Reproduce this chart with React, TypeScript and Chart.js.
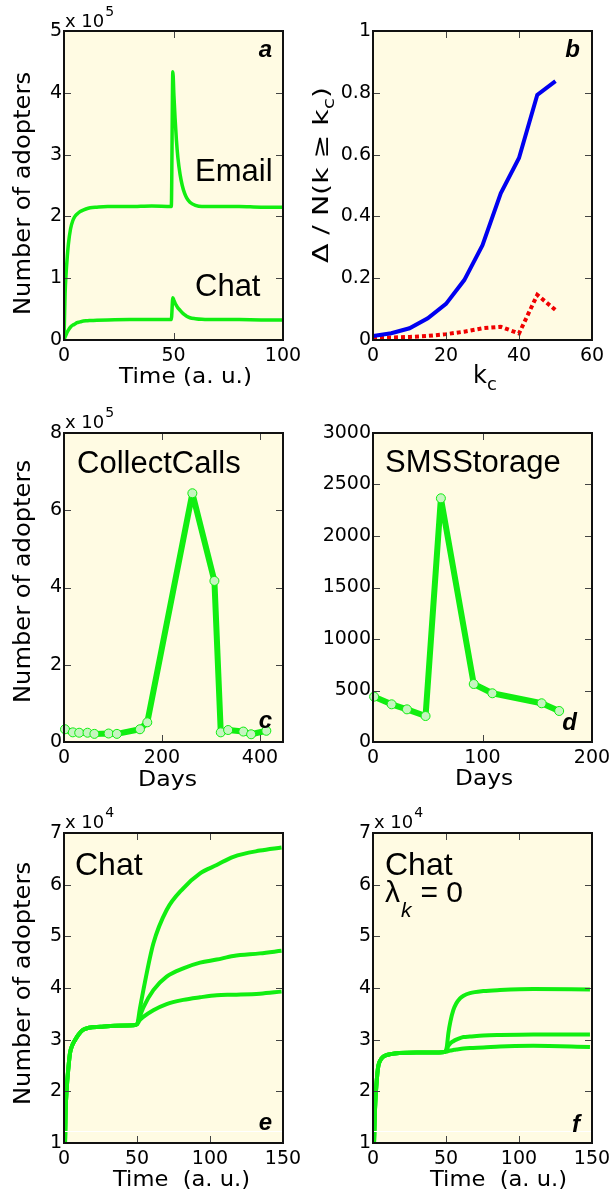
import React, { useEffect, useRef } from 'react';
import { Chart, registerables } from 'chart.js';

Chart.register(...registerables);

// ---------------- data ----------------
// panel a (values in units of 1e5)
const timeA = [0, 0.5, 1, 1.5, 2, 3, 4, 5, 6, 7, 8, 10, 12, 15, 20, 30, 40, 49, 49.7, 50.2, 50.7, 51.3, 52, 53, 54, 55, 56, 57.5, 60, 63, 70, 80, 90, 100];
const emailA = [0, 0.75, 1.1, 1.35, 1.55, 1.8, 1.93, 2.0, 2.04, 2.07, 2.09, 2.12, 2.14, 2.15, 2.16, 2.16, 2.17, 2.16, 4.34, 3.95, 3.6, 3.25, 2.95, 2.68, 2.5, 2.38, 2.3, 2.23, 2.18, 2.16, 2.16, 2.16, 2.15, 2.15];
const chatA = [0, 0.05, 0.09, 0.13, 0.16, 0.21, 0.24, 0.26, 0.28, 0.29, 0.3, 0.31, 0.315, 0.32, 0.325, 0.33, 0.33, 0.33, 0.685, 0.64, 0.6, 0.56, 0.52, 0.48, 0.44, 0.41, 0.385, 0.36, 0.345, 0.335, 0.33, 0.33, 0.325, 0.325];
const xTicksA = [0, 50, 100];
const yTicksA = [0, 1, 2, 3, 4, 5];

// panel b
const kcB = [0, 5, 10, 15, 20, 25, 30, 35, 40, 45, 50];
const blueB = [0.013, 0.022, 0.038, 0.07, 0.117, 0.194, 0.307, 0.475, 0.589, 0.793, 0.838];
const redB = [0.007, 0.008, 0.01, 0.013, 0.019, 0.027, 0.038, 0.043, 0.021, 0.146, 0.097];
const xTicksB = [0, 20, 40, 60];
const yTicksB = [0, 0.2, 0.4, 0.6, 0.8, 1];

// panel c (units of 1e5)
const daysC = [2, 18, 31, 48, 62, 91, 108, 155, 170, 262, 307, 320, 335, 366, 382, 413];
const adoptC = [0.33, 0.25, 0.24, 0.24, 0.21, 0.22, 0.21, 0.33, 0.51, 6.44, 4.17, 0.25, 0.31, 0.27, 0.2, 0.29];
const xTicksC = [0, 200, 400];
const yTicksC = [0, 2, 4, 6, 8];

// panel d
const daysD = [1, 17, 31, 48, 62, 92, 109, 154, 170];
const adoptD = [440, 366, 317, 252, 2366, 563, 473, 376, 301];
const xTicksD = [0, 100, 200];
const yTicksD = [0, 500, 1000, 1500, 2000, 2500, 3000];

// panel e (units of 1e4)
const baseTimeE = [0, 0.7, 1.1, 1.8, 3, 4.1, 5.5, 7.5, 10, 13, 17, 25, 35, 47.5, 50];
const baseE = [0, 1.0, 1.6, 2.03, 2.45, 2.74, 2.88, 2.99, 3.1, 3.19, 3.23, 3.25, 3.27, 3.28, 3.3];
const branchTimeE = [52, 54.3, 61.2, 70.3, 81.7, 93.2, 104.6, 116, 134.2, 149];
const highE = [3.6, 3.95, 4.86, 5.51, 5.93, 6.22, 6.38, 6.54, 6.66, 6.72];
const midE = [3.45, 3.62, 3.96, 4.22, 4.38, 4.49, 4.55, 4.62, 4.67, 4.72];
const lowE = [3.38, 3.44, 3.57, 3.69, 3.77, 3.82, 3.86, 3.87, 3.89, 3.93];

// panel f (units of 1e4)
const baseTimeF = [0, 0.7, 1.3, 2.1, 3, 3.7, 5, 7, 9, 12, 18, 30, 40, 49];
const baseF = [0, 1.0, 1.6, 2.03, 2.35, 2.5, 2.6, 2.67, 2.7, 2.72, 2.74, 2.75, 2.75, 2.76];
const branchTimeF = [50.5, 51.6, 53, 55, 57, 59.6, 62, 66.4, 75.6, 87, 109.8, 148.6];
const highF = [2.85, 3.12, 3.35, 3.57, 3.7, 3.8, 3.85, 3.9, 3.94, 3.96, 3.98, 3.97];
const midF = [2.8, 2.88, 2.93, 2.97, 3.0, 3.03, 3.05, 3.06, 3.08, 3.09, 3.1, 3.1];
const lowF = [2.77, 2.78, 2.79, 2.8, 2.81, 2.82, 2.83, 2.84, 2.85, 2.87, 2.88, 2.86];

const xTicksEF = [0, 50, 100, 150];
const yTicksEF = [1, 2, 3, 4, 5, 6, 7];

// ---------------- styles ----------------
const GREEN = '#11ee11';
const BG = '#fffbe3';
const FT = (s: number) => `${s}px "DejaVu Sans"`;
const FL = (s: number) => `${s}px "Liberation Sans"`;
const FLETTER = 'bold italic 24px "Liberation Sans"';
const ROT = -Math.PI / 2;

type Run = { t: string; font: string; dx?: number; dy?: number };
type Label = {
  runs: Run[];
  x: number;
  y: number;
  rot?: number;
  align?: 'left' | 'center' | 'right';
  baseline?: CanvasTextBaseline;
  width?: number;
};

const pts = (xs: number[], ys: number[]) => xs.map((x, i) => ({ x, y: ys[i] }));

function drawLabel(ctx: CanvasRenderingContext2D, lb: Label, ox: number, oy: number) {
  ctx.save();
  ctx.fillStyle = '#000';
  ctx.textBaseline = lb.baseline ?? 'alphabetic';
  ctx.textAlign = 'left';
  const widths = lb.runs.map((r) => {
    ctx.font = r.font;
    return ctx.measureText(r.t).width;
  });
  const total = widths.reduce((s, w, i) => s + w + (lb.runs[i].dx ?? 0), 0);
  const sx = lb.width ? lb.width / total : 1;
  ctx.translate(lb.x - ox, lb.y - oy);
  if (lb.rot) ctx.rotate(lb.rot);
  ctx.scale(sx, 1);
  let cur = lb.align === 'center' ? -total / 2 : lb.align === 'right' ? -total : 0;
  lb.runs.forEach((r, i) => {
    ctx.font = r.font;
    cur += r.dx ?? 0;
    ctx.fillText(r.t, cur, r.dy ?? 0);
    cur += widths[i];
  });
  ctx.restore();
}

interface Spec {
  box: [number, number, number, number];
  area: [number, number, number, number];
  xRange: [number, number];
  yRange: [number, number];
  xTicks: number[];
  yTicks: number[];
  datasets: any[];
  labels: Label[];
  whiteLine?: number;
}

function makeDecor(spec: Spec) {
  const [ox, oy] = spec.box;
  return {
    id: 'decor',
    beforeDraw(chart: any) {
      const { ctx, chartArea: a } = chart;
      ctx.save();
      ctx.fillStyle = '#ffffff';
      ctx.fillRect(0, 0, chart.width, chart.height);
      ctx.fillStyle = BG;
      ctx.fillRect(a.left, a.top, a.right - a.left, a.bottom - a.top);
      ctx.restore();
    },
    afterDatasetsDraw(chart: any) {
      const { ctx, chartArea: a, scales } = chart;
      ctx.save();
      if (spec.whiteLine != null) {
        const py = Math.round(scales.y.getPixelForValue(spec.whiteLine)) + 0.5;
        ctx.strokeStyle = '#ffffff';
        ctx.lineWidth = 1.2;
        ctx.beginPath();
        ctx.moveTo(a.left, py);
        ctx.lineTo(a.right, py);
        ctx.stroke();
      }
      ctx.strokeStyle = '#444';
      ctx.lineWidth = 1;
      ctx.beginPath();
      for (const t of scales.x.ticks) {
        const px = Math.round(scales.x.getPixelForValue(t.value)) + 0.5;
        if (px <= a.left + 2 || px >= a.right - 2) continue;
        ctx.moveTo(px, a.bottom);
        ctx.lineTo(px, a.bottom - 7);
        ctx.moveTo(px, a.top);
        ctx.lineTo(px, a.top + 7);
      }
      for (const t of scales.y.ticks) {
        const py = Math.round(scales.y.getPixelForValue(t.value)) + 0.5;
        if (py <= a.top + 2 || py >= a.bottom - 2) continue;
        ctx.moveTo(a.left, py);
        ctx.lineTo(a.left + 7, py);
        ctx.moveTo(a.right, py);
        ctx.lineTo(a.right - 7, py);
      }
      ctx.stroke();
      ctx.strokeStyle = '#111';
      ctx.lineWidth = 2;
      ctx.strokeRect(a.left, a.top, a.right - a.left, a.bottom - a.top);
      for (const lb of spec.labels) drawLabel(ctx, lb, ox, oy);
      ctx.restore();
    },
  };
}

function buildConfig(spec: Spec): any {
  const [cx, cy, cw, ch] = spec.box;
  const [L, T, R, B] = spec.area;
  const tickFont = { family: 'DejaVu Sans', size: 19 };
  const fmt = (v: any) => String(Math.round(Number(v) * 1000) / 1000);
  return {
    type: 'line',
    data: { datasets: spec.datasets },
    options: {
      animation: false,
      responsive: false,
      devicePixelRatio: 1,
      layout: { padding: { left: 0, top: T - cy, right: cx + cw - R, bottom: 0 } },
      plugins: { legend: { display: false }, tooltip: { enabled: false } },
      scales: {
        x: {
          type: 'linear',
          min: spec.xRange[0],
          max: spec.xRange[1],
          grid: { display: false, drawTicks: false },
          border: { display: false },
          ticks: { font: tickFont, color: '#000', padding: 5, autoSkip: false, maxRotation: 0, minRotation: 0, callback: fmt },
          afterBuildTicks: (s: any) => {
            s.ticks = spec.xTicks.map((v) => ({ value: v }));
          },
          afterFit: (s: any) => {
            s.height = cy + ch - B;
            s.paddingLeft = 0;
            s.paddingRight = 0;
          },
        },
        y: {
          type: 'linear',
          min: spec.yRange[0],
          max: spec.yRange[1],
          grid: { display: false, drawTicks: false },
          border: { display: false },
          ticks: { font: tickFont, color: '#000', padding: 2, autoSkip: false, callback: fmt },
          afterBuildTicks: (s: any) => {
            s.ticks = spec.yTicks.map((v) => ({ value: v }));
          },
          afterFit: (s: any) => {
            s.width = L - cx;
            s.paddingTop = 0;
            s.paddingBottom = 0;
          },
        },
      },
    },
    plugins: [makeDecor(spec)],
  };
}

const smooth = (data: any[], width: number) => ({
  data,
  borderColor: GREEN,
  borderWidth: width,
  pointRadius: 0,
  cubicInterpolationMode: 'monotone',
  fill: false,
  clip: 0,
});

const markers = (data: any[]) => ({
  data,
  borderColor: GREEN,
  borderWidth: 6,
  borderJoinStyle: 'round',
  pointRadius: 4.5,
  pointBackgroundColor: '#c6f5c0',
  pointBorderColor: GREEN,
  pointBorderWidth: 1,
  tension: 0,
  fill: false,
  clip: false,
});

const yTitle = (cyc: number): Label => ({
  runs: [{ t: 'Number of adopters', font: FT(23) }],
  x: 24,
  y: cyc,
  rot: ROT,
  align: 'center',
  baseline: 'middle',
  width: 243,
});
const sci = (x: number, y: number, e: string): Label => ({
  runs: [{ t: 'x 10', font: FT(18) }, { t: e, font: FT(14), dx: 1, dy: -11 }],
  x,
  y,
});
const letter = (t: string, x: number, y: number): Label => ({ runs: [{ t, font: FLETTER }], x, y, align: 'right' });
const text = (t: string, size: number, x: number, y: number): Label => ({ runs: [{ t, font: FL(size) }], x, y });
const xTitle = (t: string, x: number, y: number, width: number): Label => ({
  runs: [{ t, font: FT(22) }],
  x,
  y,
  align: 'center',
  width,
});

const SPECS: Spec[] = [
  {
    box: [0, 0, 306, 400],
    area: [64, 31, 283, 340],
    xRange: [0, 100],
    yRange: [0, 5],
    xTicks: xTicksA,
    yTicks: yTicksA,
    datasets: [smooth(pts(timeA, emailA), 3.5), smooth(pts(timeA, chatA), 3.5)],
    labels: [
      yTitle(193.5),
      xTitle('Time (a. u.)', 185.5, 383, 133),
      sci(65, 27, '5'),
      text('Email', 31, 195, 181),
      text('Chat', 31, 195, 296),
      letter('a', 272, 57),
    ],
  },
  {
    box: [306, 0, 307, 400],
    area: [373, 31, 592, 340],
    xRange: [0, 60],
    yRange: [0, 1],
    xTicks: xTicksB,
    yTicks: yTicksB,
    datasets: [
      { data: pts(kcB, blueB), borderColor: '#0000f0', borderWidth: 4, pointRadius: 0, tension: 0, fill: false },
      { data: pts(kcB, redB), borderColor: '#f00000', borderWidth: 4, borderDash: [4, 3], pointRadius: 0, tension: 0, fill: false },
    ],
    labels: [
      {
        runs: [
          { t: 'Δ / N(k ≥ k', font: FT(22) },
          { t: 'c', font: FT(16), dy: 6 },
          { t: ')', font: FT(22) },
        ],
        x: 328,
        y: 263,
        rot: ROT,
        width: 176,
      },
      { runs: [{ t: 'k', font: FT(24) }, { t: 'c', font: FT(18), dy: 7 }], x: 473, y: 383 },
      letter('b', 580, 57),
    ],
  },
  {
    box: [0, 400, 306, 400],
    area: [64, 433, 283, 742],
    xRange: [0, 447],
    yRange: [0, 8],
    xTicks: xTicksC,
    yTicks: yTicksC,
    datasets: [markers(pts(daysC, adoptC))],
    labels: [
      yTitle(581.5),
      xTitle('Days', 167.5, 786, 59),
      sci(65, 428, '5'),
      text('CollectCalls', 31, 77, 473),
      letter('c', 272, 728),
    ],
  },
  {
    box: [306, 400, 307, 400],
    area: [373, 433, 592, 742],
    xRange: [0, 200],
    yRange: [0, 3000],
    xTicks: xTicksD,
    yTicks: yTicksD,
    datasets: [markers(pts(daysD, adoptD))],
    labels: [xTitle('Days', 484, 785, 58), text('SMSStorage', 31, 385, 472), letter('d', 577, 730)],
  },
  {
    box: [0, 800, 306, 396],
    area: [64, 833, 283, 1143],
    xRange: [0, 150],
    yRange: [1, 7],
    xTicks: xTicksEF,
    yTicks: yTicksEF,
    whiteLine: 1.23,
    datasets: [
      smooth(pts(baseTimeE.concat(branchTimeE), baseE.concat(highE)), 4),
      smooth(pts(baseTimeE.concat(branchTimeE), baseE.concat(midE)), 4),
      smooth(pts(baseTimeE.concat(branchTimeE), baseE.concat(lowE)), 4),
    ],
    labels: [
      yTitle(983.5),
      xTitle('Time  (a. u.)', 181.5, 1186, 137),
      sci(65, 828, '4'),
      text('Chat', 32, 75, 875),
      letter('e', 272, 1130),
    ],
  },
  {
    box: [306, 800, 307, 396],
    area: [373, 833, 592, 1143],
    xRange: [0, 150],
    yRange: [1, 7],
    xTicks: xTicksEF,
    yTicks: yTicksEF,
    whiteLine: 1.23,
    datasets: [
      smooth(pts(baseTimeF.concat(branchTimeF), baseF.concat(highF)), 4),
      smooth(pts(baseTimeF.concat(branchTimeF), baseF.concat(midF)), 4),
      smooth(pts(baseTimeF.concat(branchTimeF), baseF.concat(lowF)), 4),
    ],
    labels: [
      xTitle('Time  (a. u.)', 498.5, 1186, 137),
      sci(374, 828, '4'),
      text('Chat', 32, 385, 875),
      {
        runs: [
          { t: 'λ', font: FL(30) },
          { t: 'k', font: 'italic 21px "Liberation Sans"', dx: 1, dy: 15 },
          { t: '= 0', font: FL(30), dx: 9 },
        ],
        x: 385,
        y: 902,
      },
      letter('f', 580, 1132),
    ],
  },
];

function Panel({ spec }: { spec: Spec }) {
  const ref = useRef<HTMLCanvasElement>(null);
  useEffect(() => {
    const chart = new Chart(ref.current as HTMLCanvasElement, buildConfig(spec));
    return () => chart.destroy();
  }, [spec]);
  const [x, y, w, h] = spec.box;
  return (
    <canvas
      ref={ref}
      width={w}
      height={h}
      style={{ position: 'absolute', left: x, top: y, width: w, height: h, display: 'block' }}
    />
  );
}

export default function App() {
  return (
    <div style={{ position: 'absolute', left: 0, top: 0, width: 613, height: 1196, background: '#ffffff', overflow: 'hidden' }}>
      {SPECS.map((s, i) => (
        <Panel key={i} spec={s} />
      ))}
    </div>
  );
}
